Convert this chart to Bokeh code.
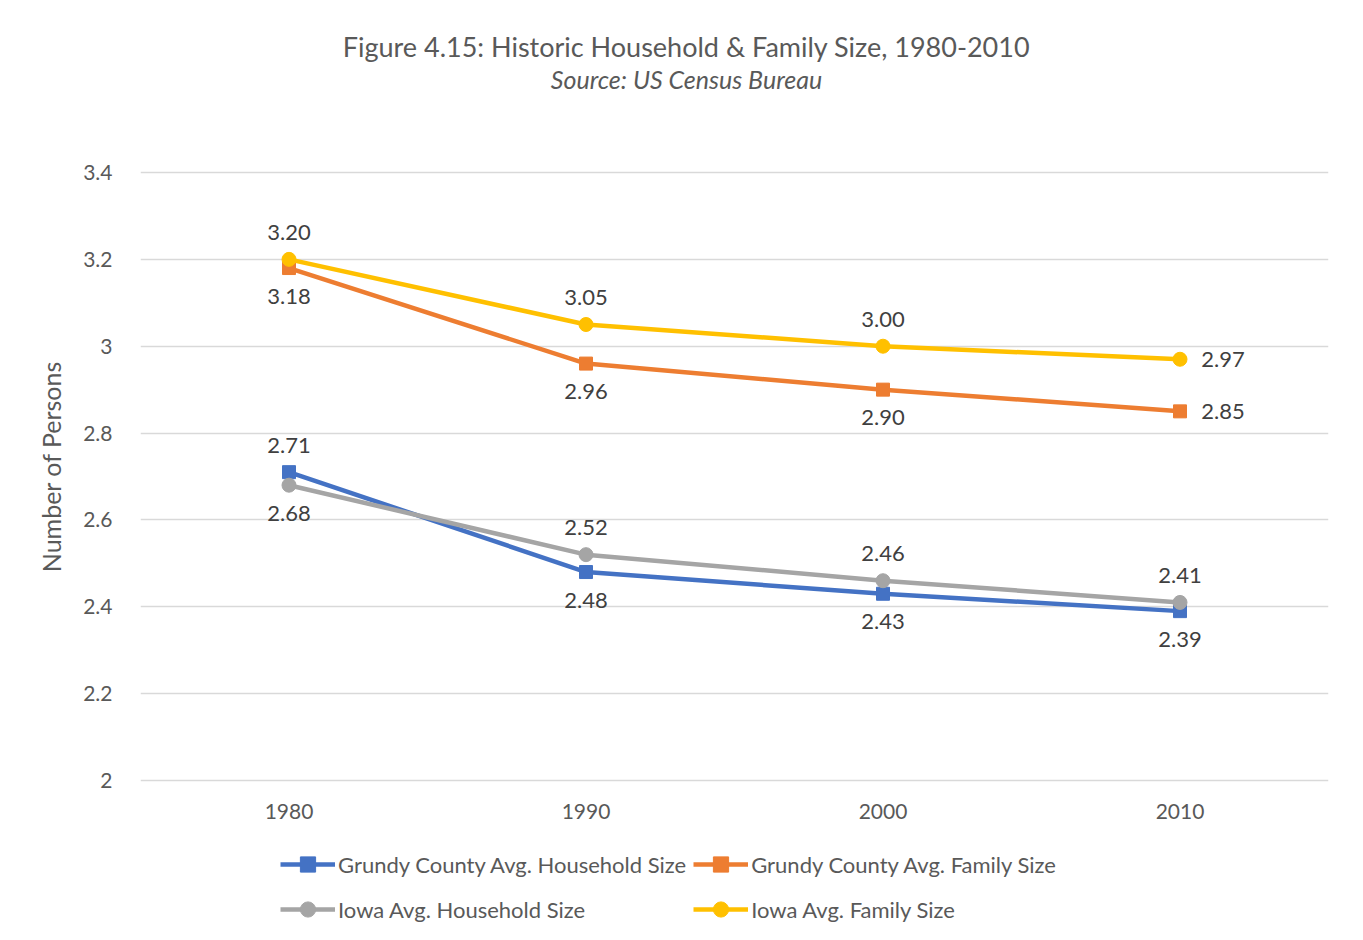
from bokeh.plotting import figure
from bokeh.models import (ColumnDataSource, FactorRange, Range1d, FixedTicker, Legend, LegendItem, Label)
from bokeh.core.properties import value
from bokeh.embed import file_html
from bokeh.resources import INLINE

# ---- data ----
years = ["1980", "1990", "2000", "2010"]
grundy_household = [2.71, 2.48, 2.43, 2.39]
grundy_family = [3.18, 2.96, 2.90, 2.85]
iowa_household = [2.68, 2.52, 2.46, 2.41]
iowa_family = [3.20, 3.05, 3.00, 2.97]
series_names = ["Grundy County Avg. Household Size", "Grundy County Avg. Family Size",
                "Iowa Avg. Household Size", "Iowa Avg. Family Size"]
y_ticks = [2.0, 2.2, 2.4, 2.6, 2.8, 3.0, 3.2, 3.4]
y_tick_labels = ["2", "2.2", "2.4", "2.6", "2.8", "3", "3.2", "3.4"]
title_text = "Figure 4.15: Historic Household & Family Size, 1980-2010"
subtitle_text = "Source: US Census Bureau"
y_axis_title = "Number of Persons"

# ---- style / layout ----
FONT = "Lato"
colors = ["#4472C4", "#ED7D31", "#A5A5A5", "#FFC000"]
markers = ["square", "square", "circle", "circle"]
# data-label placement per series: a=above, b=below, r=right
placements = [["a", "b", "b", "b"], ["b", "b", "b", "r"],
              ["b", "a", "a", "a"], ["a", "a", "a", "r"]]
OFF = {"a": (0, -27), "b": (0, 28), "r": (43, 0)}

W, H = 1355, 932
PLOT_TOP, PLOT_BOTTOM = 172, 780          # pixel rows of the 3.4 and 2.0 gridlines
Y_LO, Y_HI = y_ticks[0], y_ticks[-1]
ppu = (PLOT_BOTTOM - PLOT_TOP) / (Y_HI - Y_LO)
y_range = Range1d(Y_LO - (H - PLOT_BOTTOM) / ppu, Y_HI + PLOT_TOP / ppu)

p = figure(width=W, height=H, x_range=FactorRange(*years, range_padding=0),
           y_range=y_range, output_backend="svg", toolbar_location=None,
           min_border_left=140, min_border_right=27, min_border_top=0, min_border_bottom=0)
p.outline_line_color = None
p.background_fill_color = "white"
p.border_fill_color = "white"

p.xgrid.grid_line_color = None
p.ygrid.grid_line_color = "#D9D9D9"
p.ygrid.grid_line_width = 1.5
p.ygrid.ticker = FixedTicker(ticks=y_ticks)

p.yaxis.ticker = FixedTicker(ticks=y_ticks)
p.yaxis.major_label_overrides = {t: l for t, l in zip(y_ticks, y_tick_labels)}
for ax in (p.xaxis[0], p.yaxis[0]):
    ax.axis_line_color = None
    ax.major_tick_line_color = None
    ax.minor_tick_line_color = None
    ax.major_label_text_font = FONT
    ax.major_label_text_font_size = "21px"
    ax.major_label_text_color = "#595959"
p.xaxis.fixed_location = Y_LO
p.xaxis.major_label_standoff = 17
p.yaxis.major_label_standoff = 22
p.yaxis.axis_label = y_axis_title
p.yaxis.axis_label_text_font = FONT
p.yaxis.axis_label_text_font_size = "25px"
p.yaxis.axis_label_text_font_style = "normal"
p.yaxis.axis_label_text_color = "#595959"
p.yaxis.axis_label_standoff = 14

all_series = [grundy_household, grundy_family, iowa_household, iowa_family]
items = []
for vals, name, col, mk, plc in zip(all_series, series_names, colors, markers, placements):
    src = ColumnDataSource(dict(
        x=years, y=vals, lab=["%.2f" % v for v in vals],
        xo=[OFF[k][0] for k in plc], yo=[OFF[k][1] for k in plc]))
    ln = p.line("x", "y", source=src, line_color=col, line_width=4.5)
    sc = p.scatter("x", "y", source=src, marker=mk, size=14 if mk == "circle" else 13,
                   fill_color=col, line_color=col)
    p.text("x", "y", text="lab", source=src, x_offset="xo", y_offset="yo",
           text_align="center", text_baseline="middle", text_font=value(FONT),
           text_font_size="22px", text_color="#404040")
    items.append(LegendItem(label=name, renderers=[ln, sc]))

# legend fills column-first: order so rows read GH, GF / IH, IF
legend_items = [items[0], items[2], items[1], items[3]]
legend = Legend(items=legend_items, ncols=2, location=(140, 4),
                glyph_width=55, glyph_height=38, label_standoff=3, spacing=7,
                label_text_font=FONT, label_text_font_size="22px", label_text_color="#595959",
                padding=0, margin=0, border_line_color=None, background_fill_alpha=0)
p.add_layout(legend, "center")

p.add_layout(Label(x=546, y=H - 46, x_units="screen", y_units="screen", text=title_text,
                   text_align="center", text_baseline="middle", text_font=FONT,
                   text_font_size="27px", text_color="#595959"))
p.add_layout(Label(x=546, y=H - 78, x_units="screen", y_units="screen", text=subtitle_text,
                   text_align="center", text_baseline="middle", text_font=FONT,
                   text_font_size="25px", text_font_style="italic", text_color="#595959"))

open("out.html", "w").write(file_html(p, INLINE))
